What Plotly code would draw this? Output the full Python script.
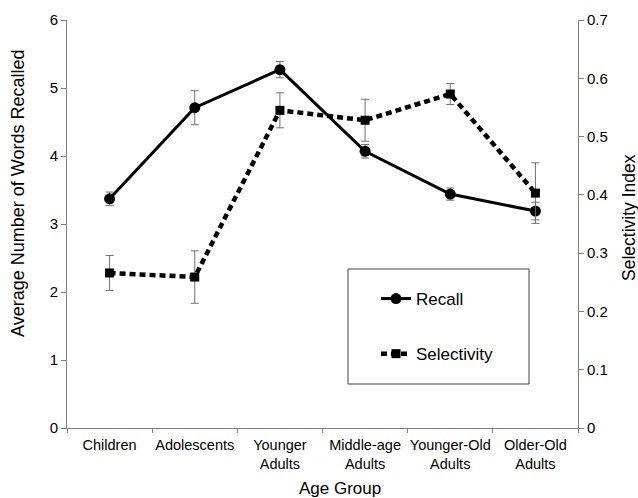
import plotly.graph_objects as go

categories = ["Children", "Adolescents", "Younger<br>Adults", "Middle-age<br>Adults", "Younger-Old<br>Adults", "Older-Old<br>Adults"]
recall = [3.37, 4.71, 5.27, 4.07, 3.44, 3.19]
recall_err = [0.10, 0.25, 0.12, 0.10, 0.09, 0.13]
selectivity = [0.266, 0.259, 0.545, 0.528, 0.573, 0.403]
selectivity_err = [0.030, 0.045, 0.030, 0.036, 0.018, 0.052]

font = "Liberation Sans, Arial, sans-serif"
axcol = "#808080"

# plot area in page pixels
L, T, PW, PH = 67, 20, 511, 408
W, H = 638, 498


def px(x):
    return (x - L) / PW


def py(y):
    return (T + PH - y) / PH


fig = go.Figure()
fig.add_trace(go.Scatter(
    x=categories, y=recall, name="Recall", mode="lines+markers",
    line=dict(color="black", width=3),
    marker=dict(symbol="circle", size=11, color="black"),
    error_y=dict(type="data", array=recall_err, color="#707070", thickness=1, width=4),
    legendgroup="a",
))
fig.add_trace(go.Scatter(
    x=categories, y=selectivity, name="Selectivity", mode="lines+markers",
    line=dict(color="black", width=4.5, dash="6px,4px"),
    marker=dict(symbol="square", size=9, color="black"),
    error_y=dict(type="data", array=selectivity_err, color="#707070", thickness=1, width=4),
    yaxis="y2", legendgroup="b",
))

fig.add_shape(type="rect", xref="paper", yref="paper",
              x0=px(348), x1=px(529), y0=py(384), y1=py(269),
              line=dict(color="#404040", width=1), fillcolor="white", layer="below")

fig.add_annotation(text="Average Number of Words Recalled", xref="paper", yref="paper",
                   x=px(18), y=py(194), textangle=-90, showarrow=False,
                   font=dict(size=18), xanchor="center", yanchor="middle", borderpad=0)
fig.add_annotation(text="Selectivity Index", xref="paper", yref="paper",
                   x=px(629), y=py(218), textangle=-90, showarrow=False,
                   font=dict(size=17.5), xanchor="center", yanchor="middle", borderpad=0)
fig.add_annotation(text="Age Group", xref="paper", yref="paper",
                   x=px(339.5), y=py(489), showarrow=False,
                   font=dict(size=17), xanchor="center", yanchor="middle", borderpad=0)

fig.update_layout(
    width=W, height=H,
    margin=dict(l=L, r=W - L - PW, t=T, b=H - T - PH, autoexpand=False),
    paper_bgcolor="white", plot_bgcolor="white",
    font=dict(family=font, size=15, color="black"),
    showlegend=True,
    legend=dict(x=px(376), y=py(281), xanchor="left", yanchor="top",
                bgcolor="rgba(0,0,0,0)", borderwidth=0, font=dict(size=17),
                tracegroupgap=30, traceorder="grouped", itemwidth=30),
    xaxis=dict(type="category", showline=True, linecolor=axcol, linewidth=1,
               ticks="outside", tickson="boundaries", ticklen=4, tickcolor=axcol,
               showgrid=False, tickfont=dict(size=14.5), tickangle=0, ticklabelstandoff=4,
               range=[-0.5, 5.5], automargin=False),
    yaxis=dict(range=[0, 6], dtick=1, showline=True, linecolor=axcol, linewidth=1,
               ticks="outside", ticklen=5, tickcolor=axcol, showgrid=False, zeroline=False,
               tickfont=dict(size=15), automargin=False),
    yaxis2=dict(range=[0, 0.7], dtick=0.1, overlaying="y", side="right",
                showline=True, linecolor=axcol, linewidth=1,
                ticks="outside", ticklen=5, tickcolor=axcol, showgrid=False, zeroline=False,
                tickfont=dict(size=15), tickformat="~g", automargin=False),
)

fig.write_html("out.html", config={"displayModeBar": False},
               post_script="document.body.style.margin='0';document.body.style.overflow='hidden';")
